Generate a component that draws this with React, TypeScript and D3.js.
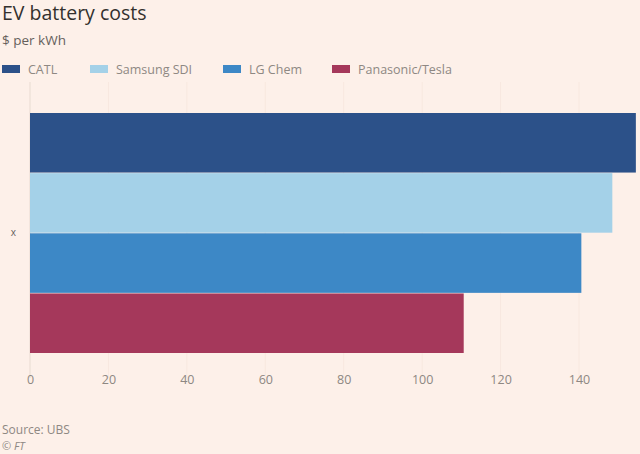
import React, { useRef, useEffect } from 'react';
import * as d3 from 'd3';

const categories = ['x'];
const seriesNames = ['CATL', 'Samsung SDI', 'LG Chem', 'Panasonic/Tesla'];
const seriesColors = ['#2c5189', '#a4d1e8', '#3d88c6', '#a5385b'];
const seriesValues = [154.5, 148.5, 140.6, 110.6];
const xTicks = [0, 20, 40, 60, 80, 100, 120, 140];

const width = 640;
const height = 454;

const App: React.FC = () => {
  const svgRef = useRef<SVGSVGElement | null>(null);

  useEffect(() => {
    if (!svgRef.current) return;
    const margin = { top: 113, right: 4, bottom: 101, left: 30 };
    const chartHeight = height - margin.top - margin.bottom;
    const font = '"Open Sans", sans-serif';

    d3.select(svgRef.current).selectAll('*').remove();
    const svg = d3.select(svgRef.current)
      .attr('width', width)
      .attr('height', height)
      .style('font-family', font);

    svg.append('rect')
      .attr('width', width)
      .attr('height', height)
      .attr('fill', '#fdf0e9');

    // Title + subtitle
    svg.append('text')
      .attr('x', 2)
      .attr('y', 20)
      .attr('fill', '#33302e')
      .attr('font-size', '19.5px')
      .text('EV battery costs');

    svg.append('text')
      .attr('x', 2)
      .attr('y', 45)
      .attr('fill', '#66605c')
      .attr('font-size', '13.5px')
      .text('$ per kWh');

    // Legend
    const legendX = [2, 90, 223, 332];
    const legend = svg.append('g').attr('transform', 'translate(0,65)');
    seriesNames.forEach((name, i) => {
      legend.append('rect')
        .attr('x', legendX[i])
        .attr('y', 0)
        .attr('width', 18)
        .attr('height', 8)
        .attr('fill', seriesColors[i]);
      legend.append('text')
        .attr('x', legendX[i] + 26)
        .attr('y', 9)
        .attr('fill', '#8e8883')
        .attr('font-size', '12.5px')
        .text(name);
    });

    const g = svg.append('g')
      .attr('transform', `translate(${margin.left},${margin.top})`);

    const xScale = d3.scaleLinear()
      .domain([0, 140])
      .range([0, 549]);

    const yScale = d3.scaleBand<string>()
      .domain(categories)
      .range([0, chartHeight]);

    const inner = d3.scaleBand<string>()
      .domain(seriesNames)
      .range([0, yScale.bandwidth()])
      .paddingInner(0.01);

    // Grid lines
    g.append('g')
      .selectAll('line')
      .data(xTicks)
      .enter()
      .append('line')
      .attr('x1', d => xScale(d))
      .attr('x2', d => xScale(d))
      .attr('y1', -31)
      .attr('y2', chartHeight + 25)
      .attr('stroke', d => (d === 0 ? '#e8dbd1' : '#f8e8df'))
      .attr('stroke-width', 1);

    // Bars
    g.selectAll('.bar')
      .data(seriesValues)
      .enter()
      .append('rect')
      .attr('class', 'bar')
      .attr('x', xScale(0))
      .attr('y', (d, i) => (yScale(categories[0]) || 0) + (inner(seriesNames[i]) || 0))
      .attr('width', d => xScale(d) - xScale(0))
      .attr('height', inner.bandwidth())
      .attr('fill', (d, i) => seriesColors[i]);

    // X axis labels
    const xAxis = d3.axisBottom(xScale)
      .tickValues(xTicks)
      .tickSize(0)
      .tickPadding(0);

    const xg = g.append('g')
      .attr('transform', `translate(0,${chartHeight + 22})`)
      .call(xAxis);
    xg.select('.domain').remove();
    xg.selectAll('text')
      .attr('fill', '#8e8883')
      .attr('font-size', '12.5px')
      .attr('font-family', font);

    // Y axis category label
    const yAxis = d3.axisLeft(yScale).tickSize(0).tickPadding(14);
    const yg = g.append('g').call(yAxis);
    yg.select('.domain').remove();
    yg.selectAll('text')
      .attr('fill', '#66605c')
      .attr('font-size', '10px')
      .attr('font-family', font);

    // Source
    svg.append('text')
      .attr('x', 2)
      .attr('y', 434)
      .attr('fill', '#8e8883')
      .attr('font-size', '12px')
      .text('Source: UBS');

    svg.append('text')
      .attr('x', 2)
      .attr('y', 450)
      .attr('fill', '#8e8883')
      .attr('font-size', '11px')
      .attr('font-style', 'italic')
      .text('© FT');
  }, []);

  return (
    <div style={{ position: 'absolute', left: 0, top: 0 }}>
      <svg ref={svgRef} style={{ display: 'block' }} />
    </div>
  );
};

export default App;
